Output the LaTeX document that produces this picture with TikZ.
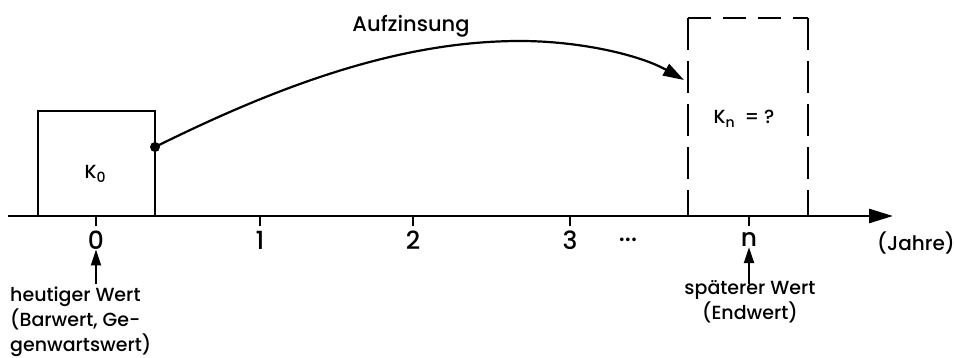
\documentclass[tikz,border=0pt]{standalone}
\usepackage{fontspec}
\setmainfont{Poppins Medium}
\usetikzlibrary{arrows.meta}
\tikzset{
  lbl/.style={font=\fontsize{19}{25}\selectfont, inner sep=0pt},
  axlbl/.style={font=\fontsize{25}{25}\selectfont, inner sep=0pt},
  valbox/.style={draw, line width=2.2pt, inner sep=0pt, outer sep=0pt, anchor=south west},
  openbox/.style={inner sep=0pt, outer sep=0pt, anchor=south west},
  sidedash/.style={line width=2.2pt, dash pattern=on 32pt off 11pt},
  topdash/.style={line width=2.2pt, dash pattern=on 23pt off 12pt},
  tickmark/.style={line width=2.2pt},
  uparrow/.style={line width=2.2pt, -{Triangle[length=16pt,width=10pt]}},
}
\begin{document}
\begin{tikzpicture}[x=1pt,y=-1pt]
\useasboundingbox (0,0) rectangle (954,358);
% axis
\coordinate (axstart) at (8,216);
\coordinate (axend) at (893,216);
\draw[line width=2.6pt, -{Triangle[length=24pt,width=14pt]}] (axstart) -- (axend);
% boxes
\node[valbox, minimum width=117pt, minimum height=105pt] (k0box) at (38,216) {};
\node[openbox, minimum width=120pt, minimum height=198pt] (knbox) at (688,216) {};
\draw[sidedash] (knbox.north west) -- (knbox.south west);
\draw[sidedash] (knbox.north east) -- (knbox.south east);
\draw[topdash] (knbox.north west) -- (knbox.north east);
\node[lbl] (k0) at (95,174) {K\raisebox{-0.4ex}{\fontsize{14}{14}\selectfont 0}};
\node[lbl] (kn) at (744,119) {K\raisebox{-0.4ex}{\fontsize{14}{14}\selectfont n}\ \ = ?};
% ticks
\foreach \x/\n in {96/t0,260/t1,413/t2,570/t3,749/tn}{
  \coordinate (\n) at (\x,216);
  \draw[tickmark] (\n) -- ++(0,10);
}
\node[axlbl] (l0) at (96,240) {0};
\node[axlbl] (l1) at (260,240) {1};
\node[axlbl] (l2) at (413,240) {2};
\node[axlbl] (l3) at (570,240) {3};
\node[axlbl] (ldots) at (628,240) {...};
\node[axlbl] (ln) at (749,240) {n};
\node[lbl, font=\fontsize{20}{22}\selectfont] (jahre) at (916,243) {(Jahre)};
% curve
\coordinate (dot) at (155,147);
\coordinate (peak) at (520,41);
\coordinate (cend) at (684,80);
\fill (dot) circle (5);
\draw[line width=2.2pt, -{Triangle[length=21pt,width=13pt]}] (dot) .. controls (280,85) and (400,41) .. (peak) .. controls (580,41) and (640,55) .. (cend);
\node[lbl, font=\fontsize{21}{24}\selectfont] (auf) at (411,26) {Aufzinsung};
% bottom labels
\node[lbl, align=left, anchor=north west] (heute) at (10,287) {heutiger Wert\\(Barwert, Ge-\\genwartswert)};
\node[lbl, align=center, anchor=north] (spaet) at (750,280) {späterer Wert\\(Endwert)};
\draw[uparrow] (96,284) -- (l0.south);
\draw[uparrow] (749,284) -- (ln.south);
\end{tikzpicture}
\end{document}
